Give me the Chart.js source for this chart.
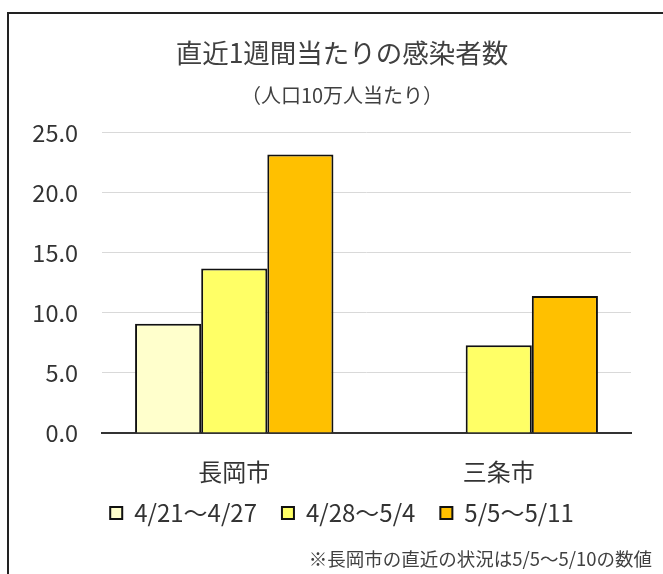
<!DOCTYPE html>
<html><head><meta charset="utf-8">
<script src="https://cdn.jsdelivr.net/npm/chart.js@4"></script>
<style>
html,body{margin:0;padding:0;background:#fff;overflow:hidden;}
#wrap{position:relative;width:663px;height:574px;}
#note{position:absolute;right:11px;top:548px;font-family:"Noto Sans CJK JP";font-size:18.5px;line-height:20px;color:#404040;white-space:nowrap;}
</style></head>
<body>
<div id="wrap"><canvas id="c" width="663" height="574"></canvas>
<div id="note">※長岡市の直近の状況は5/5～5/10の数値</div></div>
<script>
const categories = ["長岡市", "三条市"];
const seriesNames = ["4/21～4/27", "4/28～5/4", "5/5～5/11"];
const week1 = [9.1, null];
const week2 = [13.7, 7.3];
const week3 = [23.2, 11.4];
const titleText = "直近1週間当たりの感染者数";
const subtitleText = "（人口10万人当たり）";

const FONT = "'Noto Sans CJK JP', sans-serif";
const frame = {
  id: 'frame',
  beforeDraw(chart) {
    const ctx = chart.ctx;
    ctx.save();
    ctx.strokeStyle = '#222';
    ctx.lineWidth = 2;
    ctx.strokeRect(8, 13, 700, 620);
    ctx.restore();
  }
};
// nudge the legend row upward toward the axis labels
const legendShift = {
  id: 'legendShift',
  afterLayout(chart) {
    const lg = chart.legend;
    if (lg) { lg.top -= 14; lg.bottom -= 14; }
  }
};

new Chart(document.getElementById('c'), {
  type: 'bar',
  data: {
    labels: categories,
    datasets: [
      {label: seriesNames[0], data: week1, backgroundColor: '#FFFFCC', borderColor: '#111', borderWidth: 2},
      {label: seriesNames[1], data: week2, backgroundColor: '#FFFF66', borderColor: '#111', borderWidth: 2},
      {label: seriesNames[2], data: week3, backgroundColor: '#FFC000', borderColor: '#111', borderWidth: 2}
    ]
  },
  options: {
    responsive: false,
    animation: false,
    layout: {padding: {left: 21, right: 0, top: 0, bottom: 25}},
    datasets: {bar: {categoryPercentage: 0.75, barPercentage: 1.0}},
    plugins: {
      title: {display: true, text: titleText, color: '#404040',
        font: {family: FONT, size: 26.5, weight: 'normal'}, padding: {top: 37, bottom: 15}},
      subtitle: {display: true, text: subtitleText, color: '#404040',
        font: {family: FONT, size: 20, weight: 'normal'}, padding: {top: 0, bottom: 25}},
      legend: {position: 'bottom',
        labels: {boxWidth: 12, boxHeight: 12, padding: 25, color: '#333',
          font: {family: FONT, size: 24}}},
      tooltip: {enabled: false}
    },
    scales: {
      x: {
        afterFit(s) { s.height = 57; },
        grid: {display: false, drawTicks: false},
        border: {display: true, color: '#333', width: 2},
        ticks: {color: '#333', padding: 24, font: {family: FONT, size: 24}}
      },
      y: {
        min: 0, max: 25,
        afterFit(s) { s.width = 81; },
        grid: {color: '#D9D9D9', lineWidth: 1, drawTicks: false},
        border: {display: false},
        ticks: {stepSize: 5, padding: 24, color: '#333',
          font: {family: FONT, size: 23.5},
          callback: v => Number(v).toFixed(1)}
      },
      yr: {
        position: 'right', min: 0, max: 25,
        afterFit(s) { s.width = 32; },
        grid: {display: false, drawTicks: false},
        border: {display: false},
        ticks: {display: false}
      }
    }
  },
  plugins: [frame, legendShift]
});
</script>
</body></html>
